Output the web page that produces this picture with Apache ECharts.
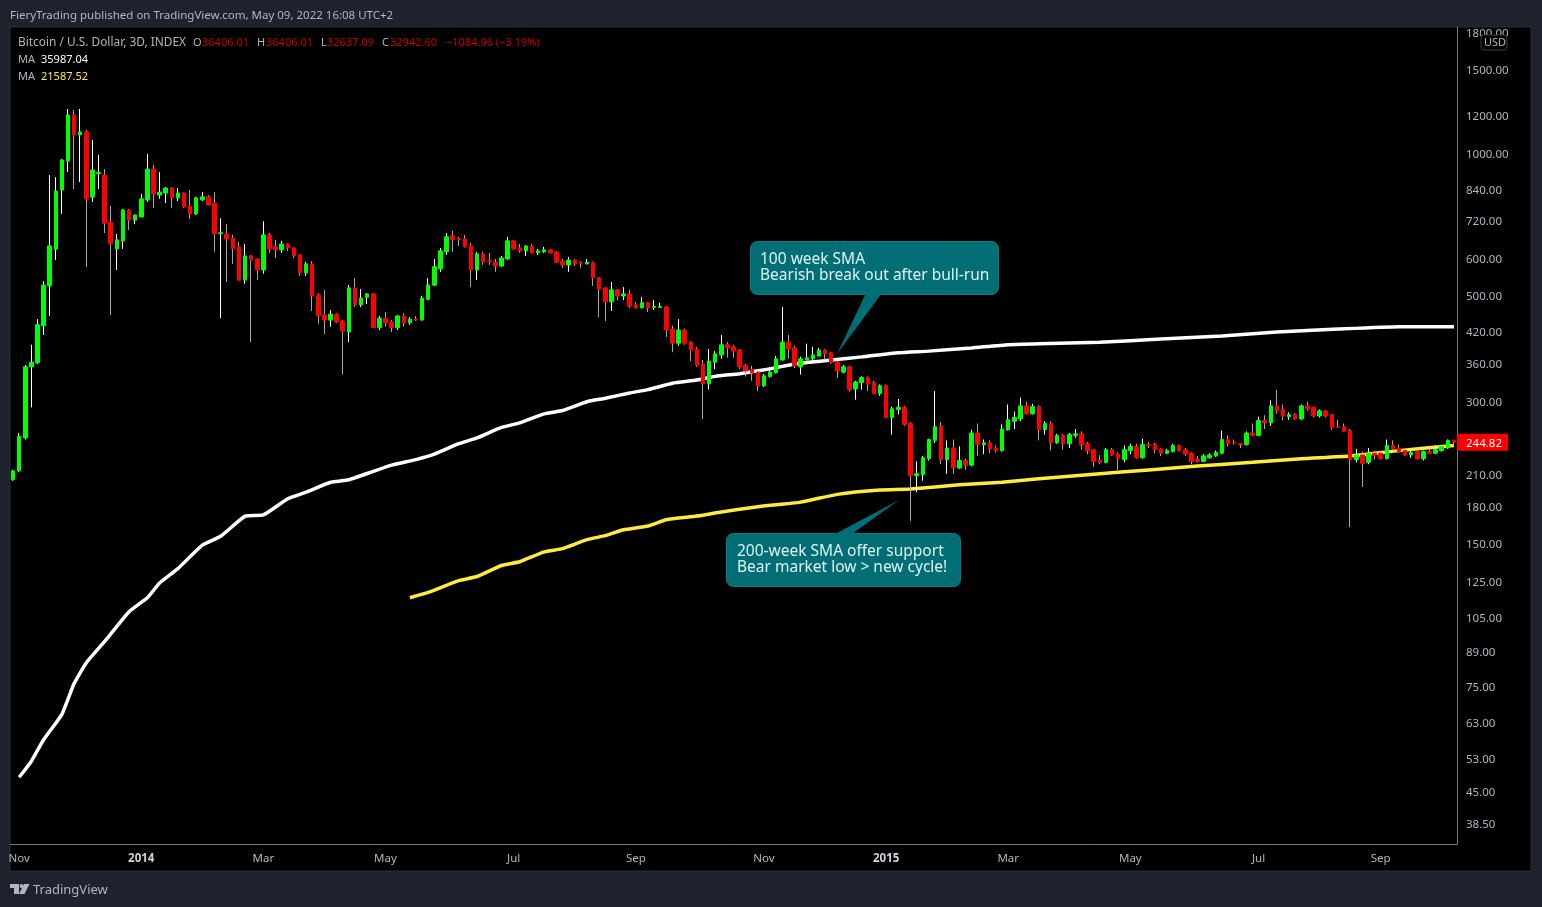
<!DOCTYPE html>
<html><head><meta charset="utf-8">
<style>html,body{margin:0;padding:0;background:#1e222d;overflow:hidden}#c{width:1542px;height:907px}</style>
<script src="https://cdn.jsdelivr.net/npm/echarts@6/dist/echarts.min.js"></script>
</head><body><div id="c"></div>
<script>
// one row per 3-day bar: open, close, low, high
const candles = [
[204,213,203,214],[213,252,212,256],[250,353,248,356],[353,361,290,393],[360,433,358,445],[431,525,412,535],[523,635,452,896],[625,829,593,887],[833,964,742,969],[959,1200,909,1235],
[1200,1089,837,1229],[1089,1105,866,1235],[1105,798,573,1116],[805,918,786,1063],[903,908,837,988],[896,709,676,922],[713,642,454,771],[626,654,565,673],[651,756,626,760],[756,720,686,760],
[720,738,706,740],[731,798,730,817],[794,922,786,993],[922,817,763,941],[813,825,798,909],[821,841,782,845],[841,802,763,845],[802,821,790,841],[821,767,763,823],[771,742,724,833],
[742,802,738,806],[794,806,790,825],[806,775,773,813],[782,673,617,825],[674,677,447,727],[673,657,533,706],[660,626,582,670],[632,538,536,648],[538,605,528,641],[605,593,398,608],
[596,565,538,598],[565,670,555,716],[670,626,614,676],[632,623,599,654],[623,641,614,651],[641,629,620,643],[629,605,599,631],[608,557,549,610],[557,582,549,588],[582,498,463,590],
[500,452,435,505],[454,443,414,513],[443,456,429,465],[456,439,437,458],[441,420,340,443],[418,518,398,525],[518,477,472,543],[477,493,472,515],[495,503,479,505],[503,427,426,505],
[427,447,422,452],[447,437,429,461],[439,427,418,443],[427,452,422,454],[452,437,429,458],[437,445,433,449],[445,443,441,452],[443,493,442,498],[490,525,488,543],[525,574,523,596],
[568,620,560,629],[617,664,608,676],[667,654,617,683],[658,655,635,664],[657,632,630,670],[635,565,520,644],[565,611,538,617],[611,587,579,617],[591,589,579,614],[587,576,560,596],
[576,599,574,605],[596,651,595,664],[651,626,624,653],[629,620,614,641],[620,635,605,637],[635,614,612,641],[614,620,608,626],[617,623,614,632],[623,614,612,625],[617,587,585,619],
[590,579,571,596],[579,593,560,602],[593,582,576,595],[586,584,571,590],[582,587,581,596],[585,544,523,589],[544,515,449,546],[518,484,441,520],[484,513,463,533],[513,498,488,515],
[498,503,488,520],[503,474,470,513],[477,470,468,484],[470,482,469,495],[482,470,461,484],[471,473,465,488],[471,473,470,482],[472,422,408,474],[424,396,379,431],[396,422,391,445],
[422,396,393,425],[398,383,363,400],[385,356,353,389],[358,325,274,365],[325,363,316,385],[361,376,349,381],[374,393,367,412],[393,387,369,398],[389,381,369,393],[383,353,349,385],
[355,346,337,358],[348,343,330,355],[344,322,314,346],[322,338,320,341],[337,344,335,353],[343,367,342,372],[365,398,364,472],[398,385,367,412],[387,355,351,391],[353,367,340,371],
[365,369,364,395],[367,374,361,389],[372,383,371,387],[383,376,365,385],[378,360,358,380],[361,346,335,363],[344,353,342,356],[353,316,313,355],[317,328,301,330],[327,335,316,337],
[335,325,314,337],[327,310,309,330],[310,322,307,324],[322,276,275,324],[276,288,254,291],[287,290,280,302],[290,267,265,292],[268,208,167,270],[208,210,192,223],[209,227,203,229],
[226,248,224,249],[247,264,244,314],[265,225,220,270],[225,238,210,247],[238,216,210,248],[216,224,215,240],[224,219,214,226],[219,256,218,260],[256,242,229,268],[242,244,231,248],
[244,237,232,247],[238,235,233,241],[235,261,234,267],[260,273,259,294],[271,276,261,284],[274,292,271,304],[292,281,280,298],[281,291,280,295],[291,260,247,293],[260,268,254,271],
[268,244,235,271],[244,253,243,255],[253,243,236,255],[243,254,238,256],[253,255,250,261],[255,242,236,258],[243,235,231,245],[236,223,217,237],[224,222,220,230],[222,236,221,238],
[236,230,229,238],[231,226,214,233],[225,236,222,241],[235,240,231,243],[240,227,226,243],[227,242,226,249],[242,241,238,245],[242,236,232,244],[237,232,229,238],[232,235,231,237],
[234,241,233,243],[241,235,234,242],[236,231,229,238],[232,223,220,233],[225,223,222,229],[223,229,222,231],[227,230,226,232],[229,233,228,235],[232,248,231,259],[248,243,240,253],
[245,244,242,248],[243,242,238,244],[242,256,241,258],[256,253,252,268],[253,272,252,277],[272,269,261,279],[269,292,265,300],[292,285,281,316],[287,278,272,294],[277,280,273,283],
[280,274,273,282],[274,292,273,294],[292,288,285,298],[290,278,276,291],[278,285,276,287],[285,278,276,286],[280,263,260,281],[264,263,262,273],[264,258,257,268],[259,225,162,261],
[225,230,222,237],[230,221,197,234],[222,232,220,238],[232,230,225,235],[232,226,225,233],[226,241,225,248],[241,237,236,247],[238,234,233,242],[235,230,229,236],[230,233,227,236],
[234,226,225,235],[226,234,224,235],[234,232,231,237],[232,236,231,241],[235,240,234,241],[238,247,237,248],[247,244.82,242,248]
];
// moving averages, read as [bar number, price]
const ma100 = [[1,48.1],[3,52],[5,57.7],[8,65.3],[10,75.8],[12,83.9],[15,93],[19,107.5],[22,115],[24,123.6],[27,132.5],[31,148.5],[34,155],[38,171],[41,172],[45,186],[48,192],[52,201.5],[55,204],[59,212.5],[62,219],[66,225],[69,231],[73,243],[76,250],[80,263],[83,269],[87,281],[90,285.5],[94,298],[97,303],[101,311],[104,316],[108,326],[112,331],[115,337],[119,341.5],[124,349.5],[128,358],[134,365],[139,370.5],[145,378],[150,381],[157,387],[163,393],[168,395],[178,398],[188,404],[198,410],[207,418],[217,424],[227,429],[236,429]];
const ma200 = [[65,115],[68,118],[73,125],[76,127.5],[80,134.5],[83,137],[87,143.7],[90,146],[94,152.5],[97,155.5],[100,160],[104,163],[107,168],[112,171],[116,174.5],[122,179],[129,183],[135,190],[142,194],[147,195],[155,199],[162,201.5],[168,205],[176,209],[186,214],[194,218],[203,222],[211,226],[219,229],[227,235],[236,241]];
const lastPrice = 244.82;
const yTicks = [1800,1500,1200,1000,840,720,600,500,420,360,300,250,210,180,150,125,105,89,75,63,53,45,38.5];
const xTickBars = [1,21,41,61,82,102,123,143,163,183,204,224];
const xTickLabels = ['Nov','2014','Mar','May','Jul','Sep','Nov','2015','Mar','May','Jul','Sep'];
const categories = candles.map((_, i) => new Date(Date.UTC(2013, 9, 30 + i * 3)).toISOString().slice(0, 10));

const FONT = '"Noto Sans", sans-serif';
const TXT = '#b2b5be';
const RED = '#c40000';
const TEAL = '#016d75';

function txt(x, y, s, fill, size, weight) {
  return {type:'text', x, y, z:220, silent:true,
    style:{text:s, fill:fill||TXT, font:(weight||'normal')+' '+(size||12)+'px '+FONT, textVerticalAlign:'middle'}};
}
const chart = echarts.init(document.getElementById('c'), null, {renderer:'canvas'});
chart.setOption({
  animation:false,
  backgroundColor:'#1e222d',
  grid:{left:10, right:85, top:27, bottom:63, containLabel:false},
  xAxis:{type:'category', data:categories, boundaryGap:true,
    axisLine:{show:true, lineStyle:{color:'#787b86', width:1}}, axisTick:{show:false}, splitLine:{show:false},
    axisLabel:{show:true, margin:9, color:TXT, fontFamily:FONT, fontSize:11.5, hideOverlap:false,
      interval:(i)=>xTickBars.includes(i),
      formatter:(v,i)=>{const k=xTickBars.indexOf(i); const s=k<0?'':xTickLabels[k]; return /^\d/.test(s)?'{y|'+s+'}':s;},
      rich:{y:{color:'#d1d4dc', fontWeight:'bold', fontFamily:FONT, fontSize:11.5}}}},
  yAxis:{type:'log', position:'right', min:34.78, max:1839, logBase:10, scale:true,
    axisLine:{show:true, onZero:false, lineStyle:{color:'#787b86', width:1}}, axisTick:{show:false}, splitLine:{show:false}, minorTick:{show:false}, minorSplitLine:{show:false},
    axisLabel:{show:true, margin:0, hideOverlap:false, showMinLabel:true, showMaxLabel:true,
      customValues:yTicks.concat([lastPrice]),
      formatter:(v)=>{const near=Math.abs(v-lastPrice)<0.01; return (near?'{t|':'{v|')+(+v).toFixed(2)+'}';},
      rich:{v:{color:TXT, fontFamily:FONT, fontSize:11.5, padding:[4,0,0,9]},
            t:{color:'#fff', fontFamily:FONT, fontSize:11.5, backgroundColor:'#ff0000', padding:[4,6,1,9]}}}},
  series:[
    {name:'MA100', type:'line', data:ma100, showSymbol:false, smooth:0.15, z:2, silent:true, lineStyle:{color:'#ffffff', width:3.5}},
    {name:'MA200', type:'line', data:ma200, showSymbol:false, smooth:0.15, z:2, silent:true, lineStyle:{color:'#ffeb3b', width:3.5}},
    {name:'wicks', type:'candlestick', data:candles, barWidth:1, z:3, silent:true,
      itemStyle:{color:'#ffffff', color0:'#a8a8a8', borderColor:'#ffffff', borderColor0:'#a8a8a8', borderWidth:1}},
    {name:'bodies', type:'candlestick', barWidth:4, z:4, silent:true,
      data:candles.map(r=>[r[0],r[1],Math.min(r[0],r[1]),Math.max(r[0],r[1])]),
      itemStyle:{color:'#00ff00', color0:'#ff0000', borderColor:'#00ff00', borderColor0:'#ff0000', borderWidth:1}}
  ],
  graphic:[
    {type:'rect', z:-1, silent:true, shape:{x:10,y:27,width:1521,height:844}, style:{fill:'#000', stroke:'#2a2e39', lineWidth:1}},
    txt(10,16,'FieryTrading published on TradingView.com, May 09, 2022 16:08 UTC+2',TXT,11.5),
    txt(18,43,'Bitcoin / U.S. Dollar, 3D, INDEX',TXT,11.9),
    txt(193,43,'O',TXT,11), txt(202,43,'36406.01',RED,11),
    txt(257,43,'H',TXT,11), txt(266,43,'36406.01',RED,11),
    txt(321,43,'L',TXT,11), txt(327,43,'32637.09',RED,11),
    txt(382,43,'C',TXT,11), txt(390,43,'32942.60',RED,11),
    txt(446,43,'−1084.96 (−3.19%)',RED,11),
    txt(18,60,'MA',TXT,11), txt(41,60,'35987.04','#ffffff',11),
    txt(18,77,'MA',TXT,11), txt(41,77,'21587.52','#ffeb3b',11),
    // USD badge
    {type:'rect', z:200, silent:true, shape:{x:1481,y:35,width:26,height:15,r:3}, style:{fill:'#000', stroke:'#3a3e49', lineWidth:1}},
    txt(1484,43,'USD',TXT,11),
    // TradingView mark
    {type:'polygon', z:200, silent:true, shape:{points:[[10,884],[19,884],[19,894],[14,894],[14,888],[10,888]]}, style:{fill:TXT}},
    {type:'circle', z:200, silent:true, shape:{cx:21.5,cy:886,r:2}, style:{fill:TXT}},
    {type:'polygon', z:200, silent:true, shape:{points:[[24,884],[29.5,884],[24.5,894],[19,894]]}, style:{fill:TXT}},
    txt(33,890.5,'TradingView',TXT,13),
    // callouts
    {type:'polygon', z:210, silent:true, shape:{points:[[866,293],[882,293],[837,354]]}, style:{fill:TEAL}},
    {type:'rect', z:209, silent:true, shape:{x:750.5,y:241.5,width:248,height:53,r:7}, style:{fill:TEAL, stroke:'#0a7f8a', lineWidth:1}},
    txt(760,260,'100 week SMA','#dff3f1',15.5), txt(760,276,'Bearish break out after bull-run','#dff3f1',15.5),
    {type:'polygon', z:210, silent:true, shape:{points:[[835,534],[852,534],[899,500]]}, style:{fill:TEAL}},
    {type:'rect', z:209, silent:true, shape:{x:726.5,y:533.5,width:234,height:53,r:7}, style:{fill:TEAL, stroke:'#0a7f8a', lineWidth:1}},
    txt(737,552,'200-week SMA offer support','#dff3f1',15.5), txt(737,568,'Bear market low > new cycle!','#dff3f1',15.5)
  ]
});
</script></body></html>
